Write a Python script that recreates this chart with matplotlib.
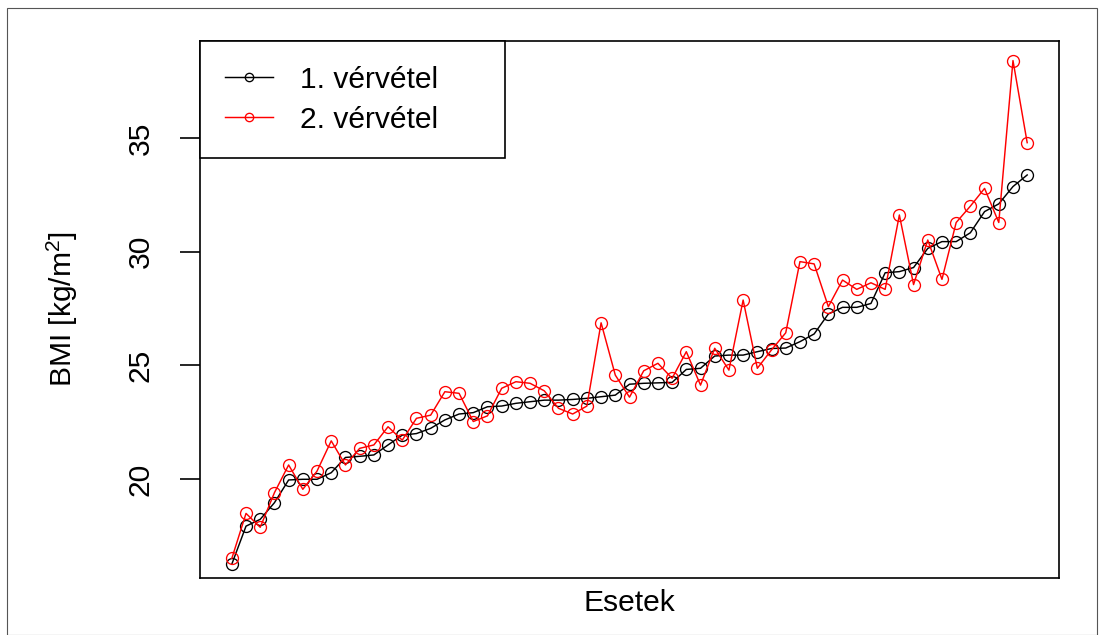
import matplotlib
matplotlib.use("Agg")
import matplotlib.pyplot as plt
from matplotlib.patches import Rectangle

plt.rcParams['font.family'] = ['Liberation Sans', 'DejaVu Sans']
plt.rcParams['mathtext.fontset'] = 'custom'
plt.rcParams['mathtext.rm'] = 'Liberation Sans'
plt.rcParams['mathtext.default'] = 'regular'

# BMI per case, first and second measurement (cases sorted by the first one)
bmi_1 = [16.26, 17.93, 18.23, 18.96, 19.96, 19.99, 19.99, 20.28, 20.95, 21.00,
         21.06, 21.50, 21.93, 22.00, 22.23, 22.60, 22.86, 22.92, 23.18, 23.21,
         23.33, 23.40, 23.47, 23.47, 23.50, 23.55, 23.62, 23.69, 24.17, 24.21,
         24.23, 24.25, 24.82, 24.87, 25.41, 25.45, 25.45, 25.60, 25.74, 25.76,
         26.04, 26.38, 27.26, 27.55, 27.55, 27.72, 29.07, 29.12, 29.30, 30.14,
         30.44, 30.44, 30.83, 31.76, 32.10, 32.86, 33.37]
bmi_2 = [16.51, 18.49, 17.88, 19.40, 20.62, 19.55, 20.35, 21.68, 20.62, 21.35,
         21.50, 22.30, 21.71, 22.67, 22.81, 23.84, 23.77, 22.53, 22.78, 23.99,
         24.28, 24.21, 23.88, 23.11, 22.86, 23.21, 26.87, 24.57, 23.60, 24.76,
         25.09, 24.43, 25.60, 24.13, 25.75, 24.79, 27.87, 24.87, 25.68, 26.43,
         29.56, 29.46, 27.58, 28.75, 28.34, 28.63, 28.34, 31.61, 28.55, 30.51,
         28.78, 31.28, 32.00, 32.78, 31.28, 38.40, 34.79]
labels = ["1. vérvétel", "2. vérvétel"]
yticks = [20, 25, 30, 35]

cases = list(range(1, len(bmi_1) + 1))

W, H = 1103, 635
fig = plt.figure(figsize=(W / 100, H / 100), dpi=100)
ax = fig.add_axes([200 / W, 1 - 578 / H, 859 / W, 537 / H])

mk = dict(marker='o', markersize=8.6, markerfacecolor='none',
          markeredgewidth=0.95, linewidth=1.05)
ax.plot(cases, bmi_1, color='black', label=labels[0], **mk)
ax.plot(cases, bmi_2, color='red', label=labels[1], **mk)

# R-style 4% padding on x
pad = 0.04 * (len(cases) - 1)
ax.set_xlim(1 - pad, len(cases) + pad)
ax.set_ylim(15.65, 39.26)

ax.set_xticks([])
ax.set_yticks(yticks)
ax.tick_params(axis='y', length=14.4, width=1.2, pad=18, labelsize=21.6,
               labelrotation=90)
for t in ax.get_yticklabels():
    t.set_verticalalignment('center')
for s in ax.spines.values():
    s.set_linewidth(1.2)

fig.text(629 / W, 1 - 603 / H, "Esetek", ha='center', va='center', fontsize=21.6)
fig.text(62 / W, 1 - 309 / H, "BMI [kg/m$^2$]", ha='center', va='center',
         rotation=90, fontsize=21.6)

leg = ax.legend(loc='upper left', bbox_to_anchor=(0, 1, 305 / 859, 0),
                mode='expand', borderaxespad=0, fancybox=False,
                edgecolor='black', framealpha=1, fontsize=21.6,
                borderpad=0.82, labelspacing=0.40, handlelength=1.6,
                handletextpad=0.9, markerscale=0.7)
leg.get_frame().set_linewidth(1.2)

# thin outer frame around the whole device
fig.patches.append(Rectangle((7 / W, 0), 1090 / W, 1 - 8 / H, fill=False,
                             edgecolor='#555555', linewidth=0.8,
                             transform=fig.transFigure))

fig.savefig("out.png", dpi=100)
